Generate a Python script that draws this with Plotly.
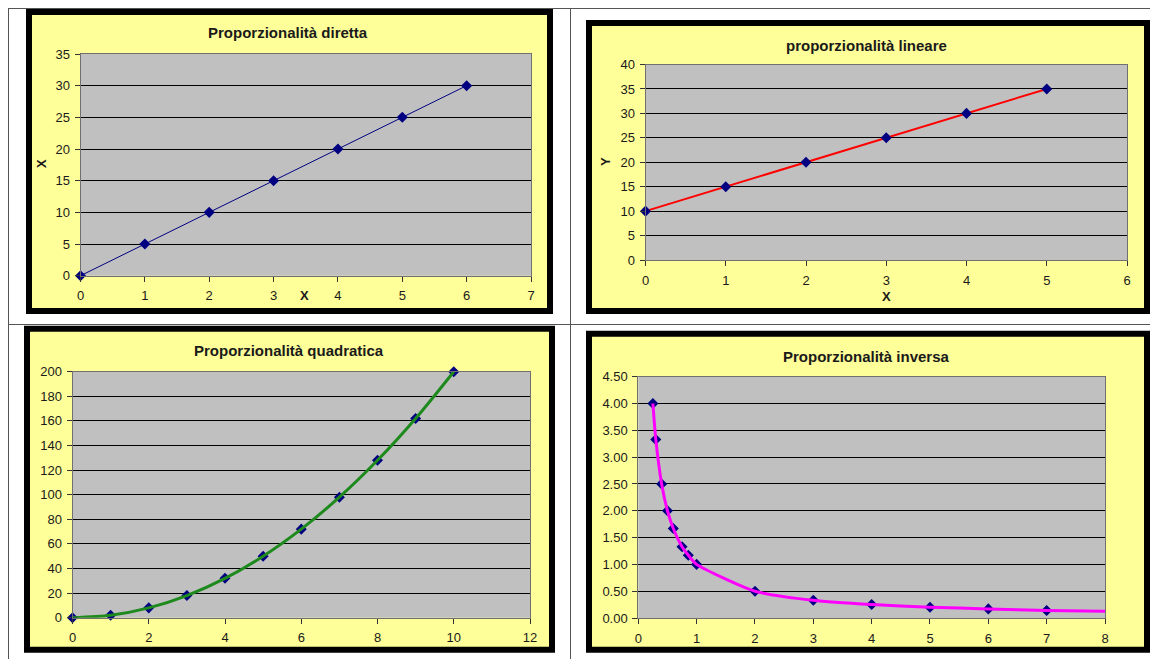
import plotly.graph_objects as go

# ---- data -------------------------------------------------------------
diretta_x = [0, 1, 2, 3, 4, 5, 6]
diretta_y = [0, 5, 10, 15, 20, 25, 30]

lineare_x = [0, 1, 2, 3, 4, 5]
lineare_y = [10, 15, 20, 25, 30, 35]

quadratica_x = [0, 1, 2, 3, 4, 5, 6, 7, 8, 9, 10]
quadratica_y = [0, 2, 8, 18, 32, 50, 72, 98, 128, 162, 200]

inversa_x = [0.25, 0.3, 0.4, 0.5, 0.6, 0.75, 0.857, 1, 2, 3, 4, 5, 6, 7]
inversa_y = [4.00, 3.33, 2.50, 2.00, 1.67, 1.33, 1.17, 1.00, 0.50, 0.33, 0.25, 0.20, 0.17, 0.14]
# the trend curve runs on to the end of the axis
inversa_curve_x = inversa_x + [8]
inversa_curve_y = inversa_y + [0.125]

titles = ["Proporzionalità diretta", "proporzionalità lineare",
          "Proporzionalità quadratica", "Proporzionalità inversa"]

# ---- page geometry (pixels) ------------------------------------------
W, H = 1150, 659
FONT = "Arial, 'Liberation Sans', sans-serif"
NAVY = "#000080"
YELLOW = "#FFFF99"
GREY = "#C0C0C0"


def px_x(px):
    return px / W


def px_y(py):
    return 1 - py / H


# chart frames: outer box (x0, y0, x1, y1) of the black border
frames = [(26, 9, 553, 314), (586, 20, 1150, 314),
          (24, 325.7, 555, 652.7), (586, 330.7, 1150, 652.7)]
BORDER = 6

# plot areas: (left, top, right, bottom)
areas = [(80.5, 54, 531, 275.7), (645.5, 64.5, 1127, 260),
         (72.5, 371.7, 530, 617.7), (638.3, 376.7, 1105, 618)]

ranges = [([0, 7], 1, [0, 35], 5), ([0, 6], 1, [0, 40], 5),
          ([0, 12], 2, [0, 200], 20), ([0, 8], 1, [0, 4.5], 0.5)]

title_pos = [(288, 33), (866, 45), (289, 350), (866, 356.7)]

fig = go.Figure()

shapes = []
# table rules
RULE = "#555555"
for (x0, y0, x1, y1) in [(8, 8.5, 1150, 8.5), (8, 324.5, 1150, 324.5),
                         (8.5, 8, 8.5, 659), (570.5, 8, 570.5, 659)]:
    shapes.append(dict(type="line", xref="paper", yref="paper",
                       x0=px_x(x0), x1=px_x(x1), y0=px_y(y0), y1=px_y(y1),
                       line=dict(color=RULE, width=1), layer="below"))

# black frames with yellow chart area
for (x0, y0, x1, y1) in frames:
    shapes.append(dict(type="rect", xref="paper", yref="paper",
                       x0=px_x(x0), x1=px_x(x1), y0=px_y(y1), y1=px_y(y0),
                       fillcolor="#000000", line=dict(width=0), layer="below"))
    shapes.append(dict(type="rect", xref="paper", yref="paper",
                       x0=px_x(x0 + BORDER), x1=px_x(x1 - BORDER),
                       y0=px_y(y1 - BORDER), y1=px_y(y0 + BORDER),
                       fillcolor=YELLOW, line=dict(width=0), layer="below"))

layout = dict(
    width=W, height=H, margin=dict(l=0, r=0, t=0, b=0),
    paper_bgcolor="white", plot_bgcolor="rgba(0,0,0,0)",
    showlegend=False, font=dict(family=FONT, size=13, color="#1a1a1a"),
)

for i, ((l, t, r, b), (xr, dx, yr, dy)) in enumerate(zip(areas, ranges)):
    n = "" if i == 0 else str(i + 1)
    xa = dict(domain=[px_x(l), px_x(r)], range=xr, dtick=dx, tick0=0,
              showgrid=False, zeroline=False, showline=True, mirror=True,
              linecolor="#707070", linewidth=1, ticks="outside", ticklen=5,
              tickcolor="#333333", anchor="y" + n, fixedrange=True,
              automargin=False, ticklabelstandoff=3,
              tickfont=dict(family=FONT, size=13, color="#1a1a1a"))
    ya = dict(domain=[px_y(b), px_y(t)], range=yr, dtick=dy, tick0=0,
              showgrid=True, gridcolor="#000000", gridwidth=1, zeroline=False,
              showline=True, mirror=True, linecolor="#707070", linewidth=1,
              ticks="outside", ticklen=5, tickcolor="#333333",
              anchor="x" + n, fixedrange=True, automargin=False,
              ticklabelstandoff=2,
              tickfont=dict(family=FONT, size=13, color="#1a1a1a"))
    if i == 3:
        ya["tickformat"] = ".2f"
    layout["xaxis" + n] = xa
    layout["yaxis" + n] = ya
    # grey plot area
    shapes.append(dict(type="rect", xref="x" + n + " domain", yref="y" + n + " domain",
                       x0=0, x1=1, y0=0, y1=1, fillcolor=GREY,
                       line=dict(width=0), layer="below"))

annotations = []
for text, (x, y) in zip(titles, title_pos):
    annotations.append(dict(text="<b>" + text + "</b>", x=px_x(x), y=px_y(y),
                            xref="paper", yref="paper", showarrow=False,
                            xanchor="center", yanchor="middle",
                            font=dict(family=FONT, size=15, color="#1a1a1a")))

# axis titles
for text, x, y, ang in [("X", 42, 164, -90), ("X", 304, 296, 0),
                        ("Y", 606, 162, -90), ("X", 886, 297, 0)]:
    annotations.append(dict(text="<b>" + text + "</b>", x=px_x(x), y=px_y(y),
                            xref="paper", yref="paper", showarrow=False,
                            xanchor="center", yanchor="middle", textangle=ang,
                            font=dict(family=FONT, size=13, color="#1a1a1a")))

marker = dict(symbol="diamond", size=8.5, color=NAVY, line=dict(width=0))

# 1: direct proportionality
fig.add_trace(go.Scatter(x=diretta_x, y=diretta_y, mode="lines+markers",
                         line=dict(color=NAVY, width=1), marker=marker,
                         cliponaxis=False, xaxis="x", yaxis="y"))
# 2: linear relation
fig.add_trace(go.Scatter(x=lineare_x, y=lineare_y, mode="lines",
                         line=dict(color="#FF0000", width=2),
                         xaxis="x2", yaxis="y2"))
fig.add_trace(go.Scatter(x=lineare_x, y=lineare_y, mode="markers", marker=marker,
                         cliponaxis=False, xaxis="x2", yaxis="y2"))
# 3: quadratic relation
fig.add_trace(go.Scatter(x=quadratica_x, y=quadratica_y, mode="markers",
                         marker=marker, cliponaxis=False,
                         xaxis="x3", yaxis="y3"))
fig.add_trace(go.Scatter(x=quadratica_x, y=quadratica_y, mode="lines",
                         line=dict(color="#1E8A1E", width=3, shape="spline",
                                   smoothing=0.8),
                         xaxis="x3", yaxis="y3"))
# 4: inverse relation
fig.add_trace(go.Scatter(x=inversa_x, y=inversa_y, mode="markers",
                         marker=marker, cliponaxis=False,
                         xaxis="x4", yaxis="y4"))
fig.add_trace(go.Scatter(x=inversa_curve_x, y=inversa_curve_y, mode="lines",
                         line=dict(color="#FF00FF", width=3, shape="spline",
                                   smoothing=0.6),
                         xaxis="x4", yaxis="y4"))

layout["shapes"] = shapes
layout["annotations"] = annotations
fig.update_layout(**layout)

fig.write_html("out.html", config={"displayModeBar": False},
               post_script="document.body.style.margin='0';")
